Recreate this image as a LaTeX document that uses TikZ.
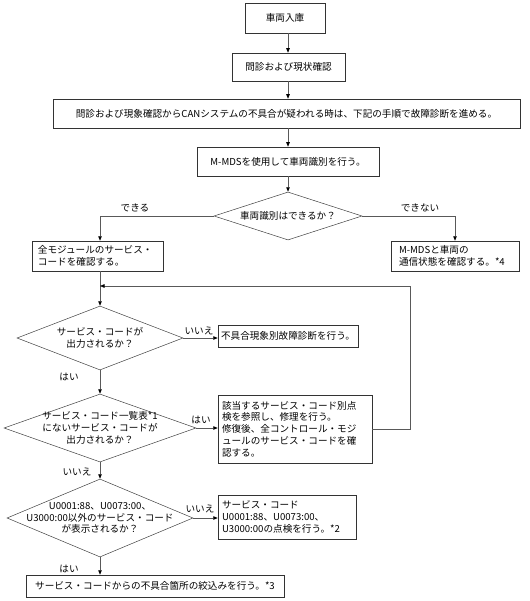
\documentclass[tikz,border=0pt]{standalone}
\usepackage{fontspec}
\setmainfont{Noto Sans CJK JP}
\usetikzlibrary{shapes.geometric,arrows.meta,shadows}
\begin{document}
\begin{tikzpicture}[x=1bp,y=-1bp,
  every node/.style={font=\fontsize{9.6bp}{11.8bp}\selectfont},
  box/.style={draw=black!80, line width=0.5bp, fill=white, inner sep=0pt,
    drop shadow={shadow xshift=0.9bp, shadow yshift=-0.9bp, fill=black!40, opacity=1}},
  lbox/.style={box, align=left, anchor=center},
  dia/.style={diamond, draw=black!75, line width=0.5bp, inner sep=0pt},
  lbl/.style={inner sep=0pt},
  conn/.style={draw=black!65, line width=0.7bp},
  arr/.style={conn, -{Triangle[length=4.5bp,width=3.5bp,color=black]}},
]
\useasboundingbox (0,0) rectangle (530,601);

\node[box, minimum width=80bp, minimum height=30bp] (b1) at (285,18) {車両入庫};
\node[box, minimum width=113bp, minimum height=28bp] (b2) at (288.5,67) {問診および現状確認};
\node[box, minimum width=467bp, minimum height=29bp] (b3) at (286.5,113.5) {問診および現象確認からCANシステムの不具合が疑われる時は、下記の手順で故障診断を進める。};
\node[box, minimum width=182bp, minimum height=29bp] (b4) at (288,161.5) {M-MDSを使用して車両識別を行う。};

\node[dia, minimum width=148bp, minimum height=48bp] (d1) at (288,216) {};
\node[lbl] (t1) at (d1.center) {車両識別はできるか？};

\node[lbox, inner xsep=6bp, text width=119bp, minimum height=30bp] (b5) at (97.5,256) {全モジュールのサービス・\\コードを確認する。};
\node[lbox, inner xsep=8bp, text width=112bp, minimum height=30bp] (b6) at (455,256) {M-MDSと車両の\\通信状態を確認する。*4};

\node[dia, minimum width=166bp, minimum height=64bp] (d2) at (100,338) {};
\node[lbl, align=center] (t2) at (d2.center) {サービス・コードが\\出力されるか？};
\node[box, minimum width=140bp, minimum height=22bp] (b7) at (288,336) {不具合現象別故障診断を行う。};

\node[dia, minimum width=192bp, minimum height=68bp] (d3) at (100,428) {};
\node[lbl, align=center] (t3) at (d3.center) {サービス・コード一覧表*1\\にないサービス・コードが\\出力されるか？};
\node[lbox, inner xsep=4bp, text width=146bp, minimum height=68bp] (b8) at (295,429) {該当するサービス・コード別点\\検を参照し、修理を行う。\\修復後、全コントロール・モジ\\ュールのサービス・コードを確\\認する。};

\node[dia, minimum width=186bp, minimum height=78bp] (d4) at (100,518) {};
\node[lbl, align=center] (t4) at (d4.center) {U0001:88、U0073:00、\\U3000:00以外のサービス・コード\\が表示されるか？};
\node[lbox, inner xsep=4bp, text width=130bp, minimum height=44bp] (b9) at (287,517) {サービス・コード\\U0001:88、U0073:00、\\U3000:00の点検を行う。*2};

\node[box, minimum width=258bp, minimum height=22bp] (b10) at (155,586) {サービス・コードからの不具合箇所の絞込みを行う。*3};

\node[lbl] (l1) at (135,208) {できる};
\node[lbl] (l2) at (420,208) {できない};
\node[lbl] (l3) at (199,331) {いいえ};
\node[lbl] (l4) at (69,377) {はい};
\node[lbl] (l5) at (201,420) {はい};
\node[lbl] (l6) at (77,472) {いいえ};
\node[lbl] (l7) at (200,509) {いいえ};
\node[lbl] (l8) at (69,569) {はい};

\coordinate (lp) at (410,286);

\draw[arr] (b1.south -| d1.north) -- (b2.north -| d1.north);
\draw[arr] (b2.south -| d1.north) -- (b3.north -| d1.north);
\draw[arr] (b3.south -| d1.north) -- (b4.north -| d1.north);
\draw[arr] (b4.south -| d1.north) -- (d1.north);
\draw[arr] (d1.west) -| (b5.north -| d2.north);
\draw[arr] (d1.east) -| (b6.north);
\draw[arr] (b5.south -| d2.north) -- (d2.north);
\draw[arr] (d2.east) -- (b7.west |- d2.east);
\draw[arr] (d2.south) -- (d3.north);
\draw[arr] (d3.east) -- (b8.west |- d3.east);
\draw[arr] (d3.south) -- (d4.north);
\draw[arr] (d4.east) -- (b9.west |- d4.east);
\draw[arr] (d4.south) -- (b10.north -| d4.south);
\draw[arr] (b8.east) -| (lp) -- (lp -| d2.north);
\end{tikzpicture}
\end{document}
